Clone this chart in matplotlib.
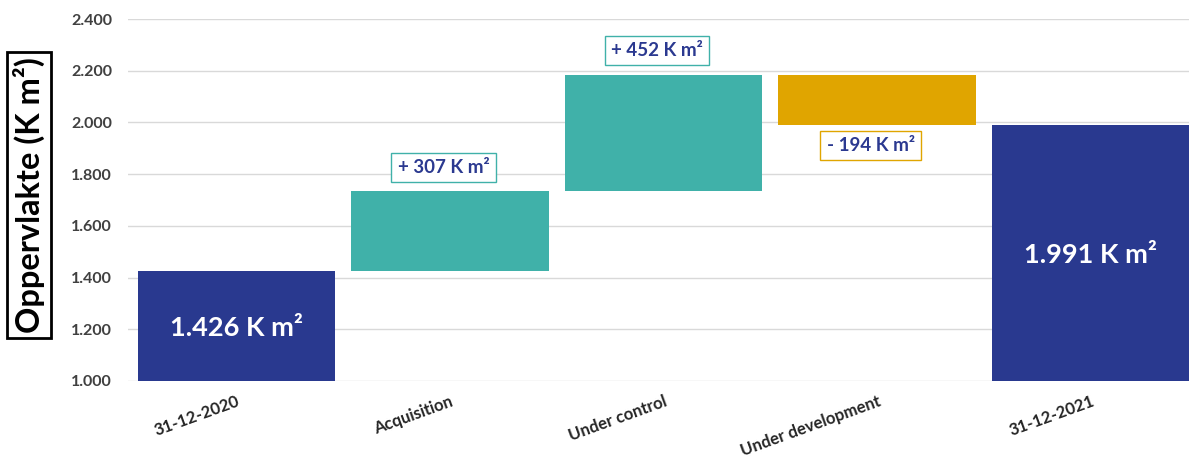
import numpy as np
import matplotlib.pyplot as plt
from matplotlib.ticker import FuncFormatter

plt.rcParams['font.family'] = ['Lato', 'DejaVu Sans']

# data (K m2)
categories = ["31-12-2020", "Acquisition", "Under control", "Under development", "31-12-2021"]
start_value = 1426
changes = [307, 452, -194]
end_value = 1991

NAVY = "#29398F"
TEAL = "#40B1A9"
GOLD = "#E0A500"
TXT = "#2B3990"

# build waterfall bottoms / heights
bottoms = [0]
heights = [start_value]
level = start_value
for c in changes:
    bottoms.append(level if c > 0 else level + c)
    heights.append(abs(c))
    level += c
bottoms.append(0)
heights.append(end_value)
colors = [NAVY] + [TEAL if c > 0 else GOLD for c in changes] + [NAVY]

fig = plt.figure(figsize=(11.89, 4.59), dpi=100)
ax = fig.add_axes([0.1077, 0.170, 0.8923, 0.7886])

x = np.arange(len(categories))
ax.bar(x, heights, bottom=bottoms, width=0.925, color=colors, zorder=2)

ax.set_ylim(1000, 2400)
ax.set_xlim(-0.507, 4.46)
ax.set_yticks(np.arange(1000, 2401, 200))
ax.yaxis.set_major_formatter(FuncFormatter(lambda v, p: f"{int(v):,}".replace(",", ".")))
ax.grid(axis='y', color='#D9D9D9', lw=1, zorder=0)
for s in ax.spines.values():
    s.set_visible(False)
ax.tick_params(axis='y', length=0, pad=11.5, labelsize=11.5, labelcolor='#404040')
ax.tick_params(axis='x', length=0, pad=9)
for lab in ax.get_yticklabels():
    lab.set_fontweight('bold')
ax.set_xticks(x)
ax.set_xticklabels(categories, rotation=20, ha='right', rotation_mode='anchor',
                   fontsize=12, fontweight='bold', color='#262626')

# big totals inside the first / last bar
ax.text(0, 1205, f"{start_value/1000:.3f} K m²", color='white', fontsize=19.5,
        fontweight='bold', ha='center', va='center', zorder=3)
ax.text(4, 1487, f"{end_value/1000:.3f} K m²", color='white', fontsize=19.5,
        fontweight='bold', ha='center', va='center', zorder=3)

# change labels
level = start_value
for i, c in enumerate(changes):
    top = level + max(c, 0)
    low = level + min(c, 0)
    if c > 0:
        y = top + 92
        txt = f"+ {c} K m²"
        ec = TEAL
    else:
        y = low - 80
        txt = f"- {abs(c)} K m²"
        ec = GOLD
    ax.text(i + 1 - 0.03, y, txt, color=TXT, fontsize=13.5, fontweight='bold',
            ha='center', va='center', zorder=3,
            bbox=dict(boxstyle='square,pad=0.33', fc='white', ec=ec, lw=1))
    level += c

fig.text(29 / 1189, 1 - 195 / 459, "Oppervlakte (K m²)", rotation=90,
         fontsize=23.5, fontweight='bold', color='black', ha='center', va='center',
         bbox=dict(boxstyle='square,pad=0.17', fc='white', ec='black', lw=2))

fig.savefig("out.png", dpi=100)
